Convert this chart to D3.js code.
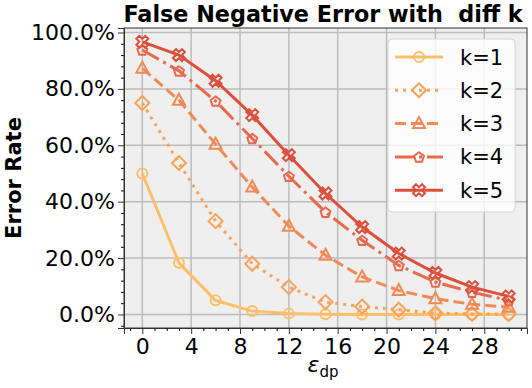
<!DOCTYPE html>
<html>
<head>
<meta charset="utf-8">
<script src="https://cdn.jsdelivr.net/npm/d3@7"></script>
<style>
  body { margin: 0; background: #fff; }
  text { font-family: "DejaVu Sans", sans-serif; }
</style>
</head>
<body>
<div id="viz"></div>
<script>
const epsilons = [0, 3, 6, 9, 12, 15, 18, 21, 24, 27, 30];
const seriesNames = ["k=1", "k=2", "k=3", "k=4", "k=5"];
const k1 = [0.500, 0.183, 0.050, 0.012, 0.003, 0.001, 0.000, 0.000, 0.000, 0.000, 0.000];
const k2 = [0.750, 0.537, 0.331, 0.180, 0.097, 0.044, 0.028, 0.017, 0.005, 0.002, 0.001];
const k3 = [0.873, 0.760, 0.604, 0.452, 0.313, 0.210, 0.133, 0.085, 0.056, 0.036, 0.026];
const k4 = [0.938, 0.864, 0.757, 0.624, 0.490, 0.363, 0.263, 0.174, 0.115, 0.079, 0.050];
const k5 = [0.967, 0.920, 0.829, 0.707, 0.565, 0.429, 0.310, 0.216, 0.147, 0.097, 0.064];
const xTicks = [0, 4, 8, 12, 16, 20, 24, 28];
const yTicks = [0, 0.2, 0.4, 0.6, 0.8, 1.0];

document.addEventListener("DOMContentLoaded", () => {
    const width = 532;
    const height = 388;
    const margin = { left: 124, right: 5, top: 28, bottom: 60 };

    const svg = d3.select('#viz').append('svg')
        .attr('width', width)
        .attr('height', height);

    const x = d3.scaleLinear().domain([-1.5, 31.5]).range([margin.left, width - margin.right]);
    const y = d3.scaleLinear().domain([-0.048, 1.016]).range([height - margin.bottom, margin.top]);

    const colors = ['#ffbf69', '#f9a35b', '#f08a56', '#e86a4e', '#dd503d'];
    const dashes = [null, '3,5', '11,5', '19,5,3,5', null];
    const values = [k1, k2, k3, k4, k5];

    // marker shapes, centred on 0,0
    const s = 6;
    const pent = d3.range(5).map(i => {
        const a = -Math.PI / 2 + i * 2 * Math.PI / 5;
        return [Math.cos(a) * 5.2, Math.sin(a) * 5.2 + 0.6];
    });
    const xPts = [[0.25, 0], [0.5, 0.25], [0.75, 0], [1, 0.25], [0.75, 0.5], [1, 0.75], [0.75, 1], [0.5, 0.75], [0.25, 1], [0, 0.75], [0.25, 0.5], [0, 0.25]]
        .map(p => [(p[0] - 0.5) * 12, (p[1] - 0.5) * 12]);
    const poly = pts => 'M' + pts.map(p => p.join(',')).join('L') + 'Z';
    const markers = [
        `M${s - 1},0A${s - 1},${s - 1},0,1,1,${-(s - 1)},0A${s - 1},${s - 1},0,1,1,${s - 1},0Z`,
        poly([[0, -7], [7, 0], [0, 7], [-7, 0]]),
        poly([[0, -6.5], [6, 4.5], [-6, 4.5]]),
        poly(pent),
        poly(xPts)
    ];

    // axes background
    svg.append('rect')
        .attr('x', margin.left).attr('y', margin.top)
        .attr('width', width - margin.right - margin.left)
        .attr('height', height - margin.bottom - margin.top)
        .attr('fill', '#efefef');

    // grid
    svg.append('g').selectAll('line').data(xTicks).enter().append('line')
        .attr('x1', d => x(d)).attr('x2', d => x(d))
        .attr('y1', margin.top).attr('y2', height - margin.bottom)
        .attr('stroke', '#bdbdbd').attr('stroke-width', 1.5);
    svg.append('g').selectAll('line').data(yTicks).enter().append('line')
        .attr('y1', d => y(d)).attr('y2', d => y(d))
        .attr('x1', margin.left).attr('x2', width - margin.right)
        .attr('stroke', '#bdbdbd').attr('stroke-width', 1.5);

    // series
    values.forEach((vals, i) => {
        const pts = epsilons.map((e, j) => [e, vals[j]]);
        const g = svg.append('g');
        g.append('path')
            .datum(pts)
            .attr('d', d3.line().x(d => x(d[0])).y(d => y(d[1])))
            .attr('fill', 'none')
            .attr('stroke', colors[i])
            .attr('stroke-width', 3)
            .attr('stroke-dasharray', dashes[i]);
        g.selectAll('path.m').data(pts).enter().append('path')
            .attr('class', 'm')
            .attr('d', markers[i])
            .attr('transform', d => `translate(${x(d[0])},${y(d[1])})`)
            .attr('fill', 'none')
            .attr('stroke', colors[i])
            .attr('stroke-width', 2);
    });

    // axes
    const xAxis = svg.append('g')
        .attr('transform', `translate(0,${height - margin.bottom})`)
        .call(d3.axisBottom(x).tickValues(xTicks).tickSize(6).tickPadding(4).tickFormat(d3.format('d')));
    svg.append('g')
        .attr('transform', `translate(0,${height - margin.bottom})`)
        .call(d3.axisBottom(x).tickValues(d3.range(-1, 32).filter(d => d % 4 !== 0)).tickSize(3).tickFormat(''))
        .select('.domain').remove();
    const yAxis = svg.append('g')
        .attr('transform', `translate(${margin.left},0)`)
        .call(d3.axisLeft(y).tickValues(yTicks).tickSize(6).tickPadding(3).tickFormat(d3.format('.1%')));
    svg.append('g')
        .attr('transform', `translate(${margin.left},0)`)
        .call(d3.axisLeft(y).tickValues(d3.range(-0.04, 1.02, 0.04).filter(d => Math.abs(Math.round(d * 5) - d * 5) > 0.01)).tickSize(3).tickFormat(''))
        .select('.domain').remove();
    [xAxis, yAxis].forEach(a => {
        a.selectAll('text').attr('font-size', 22).attr('fill', '#000').style('font-family', '"DejaVu Sans", sans-serif');
        a.selectAll('line').attr('stroke', '#333');
        a.select('.domain').attr('stroke', '#333');
    });

    // frame
    svg.append('rect')
        .attr('x', margin.left).attr('y', margin.top)
        .attr('width', width - margin.right - margin.left)
        .attr('height', height - margin.bottom - margin.top)
        .attr('fill', 'none').attr('stroke', '#333').attr('stroke-width', 1);

    // legend
    const legend = svg.append('g').attr('transform', 'translate(388,39)');
    legend.append('rect')
        .attr('width', 127).attr('height', 173).attr('rx', 4)
        .attr('fill', 'rgba(255,255,255,0.8)')
        .attr('stroke', '#d6d6d6');
    seriesNames.forEach((name, i) => {
        const ly = 18 + i * 33.3;
        legend.append('line')
            .attr('x1', 7).attr('x2', 55).attr('y1', ly).attr('y2', ly)
            .attr('stroke', colors[i]).attr('stroke-width', 3)
            .attr('stroke-dasharray', dashes[i]);
        legend.append('path')
            .attr('d', markers[i])
            .attr('transform', `translate(31,${ly})`)
            .attr('fill', 'none').attr('stroke', colors[i]).attr('stroke-width', 2);
        legend.append('text')
            .attr('x', 72).attr('y', ly + 7.5)
            .attr('font-size', 21)
            .text(name);
    });

    // title and labels
    svg.append('text')
        .attr('x', 323).attr('y', 22)
        .attr('text-anchor', 'middle')
        .attr('font-size', 22.3).attr('font-weight', 'bold')
        .style('white-space', 'pre')
        .text('False Negative Error with  diff k');

    svg.append('text')
        .attr('transform', `translate(21,${(margin.top + height - margin.bottom) / 2}) rotate(-90)`)
        .attr('text-anchor', 'middle')
        .attr('font-size', 21).attr('font-weight', 'bold')
        .text('Error Rate');

    const xl = svg.append('text')
        .attr('x', 323).attr('y', 372)
        .attr('text-anchor', 'middle');
    xl.append('tspan').attr('font-size', 22).attr('font-style', 'italic').text('ε');
    xl.append('tspan').attr('font-size', 15).attr('dy', 5).text('dp');
});
</script>
</body>
</html>
